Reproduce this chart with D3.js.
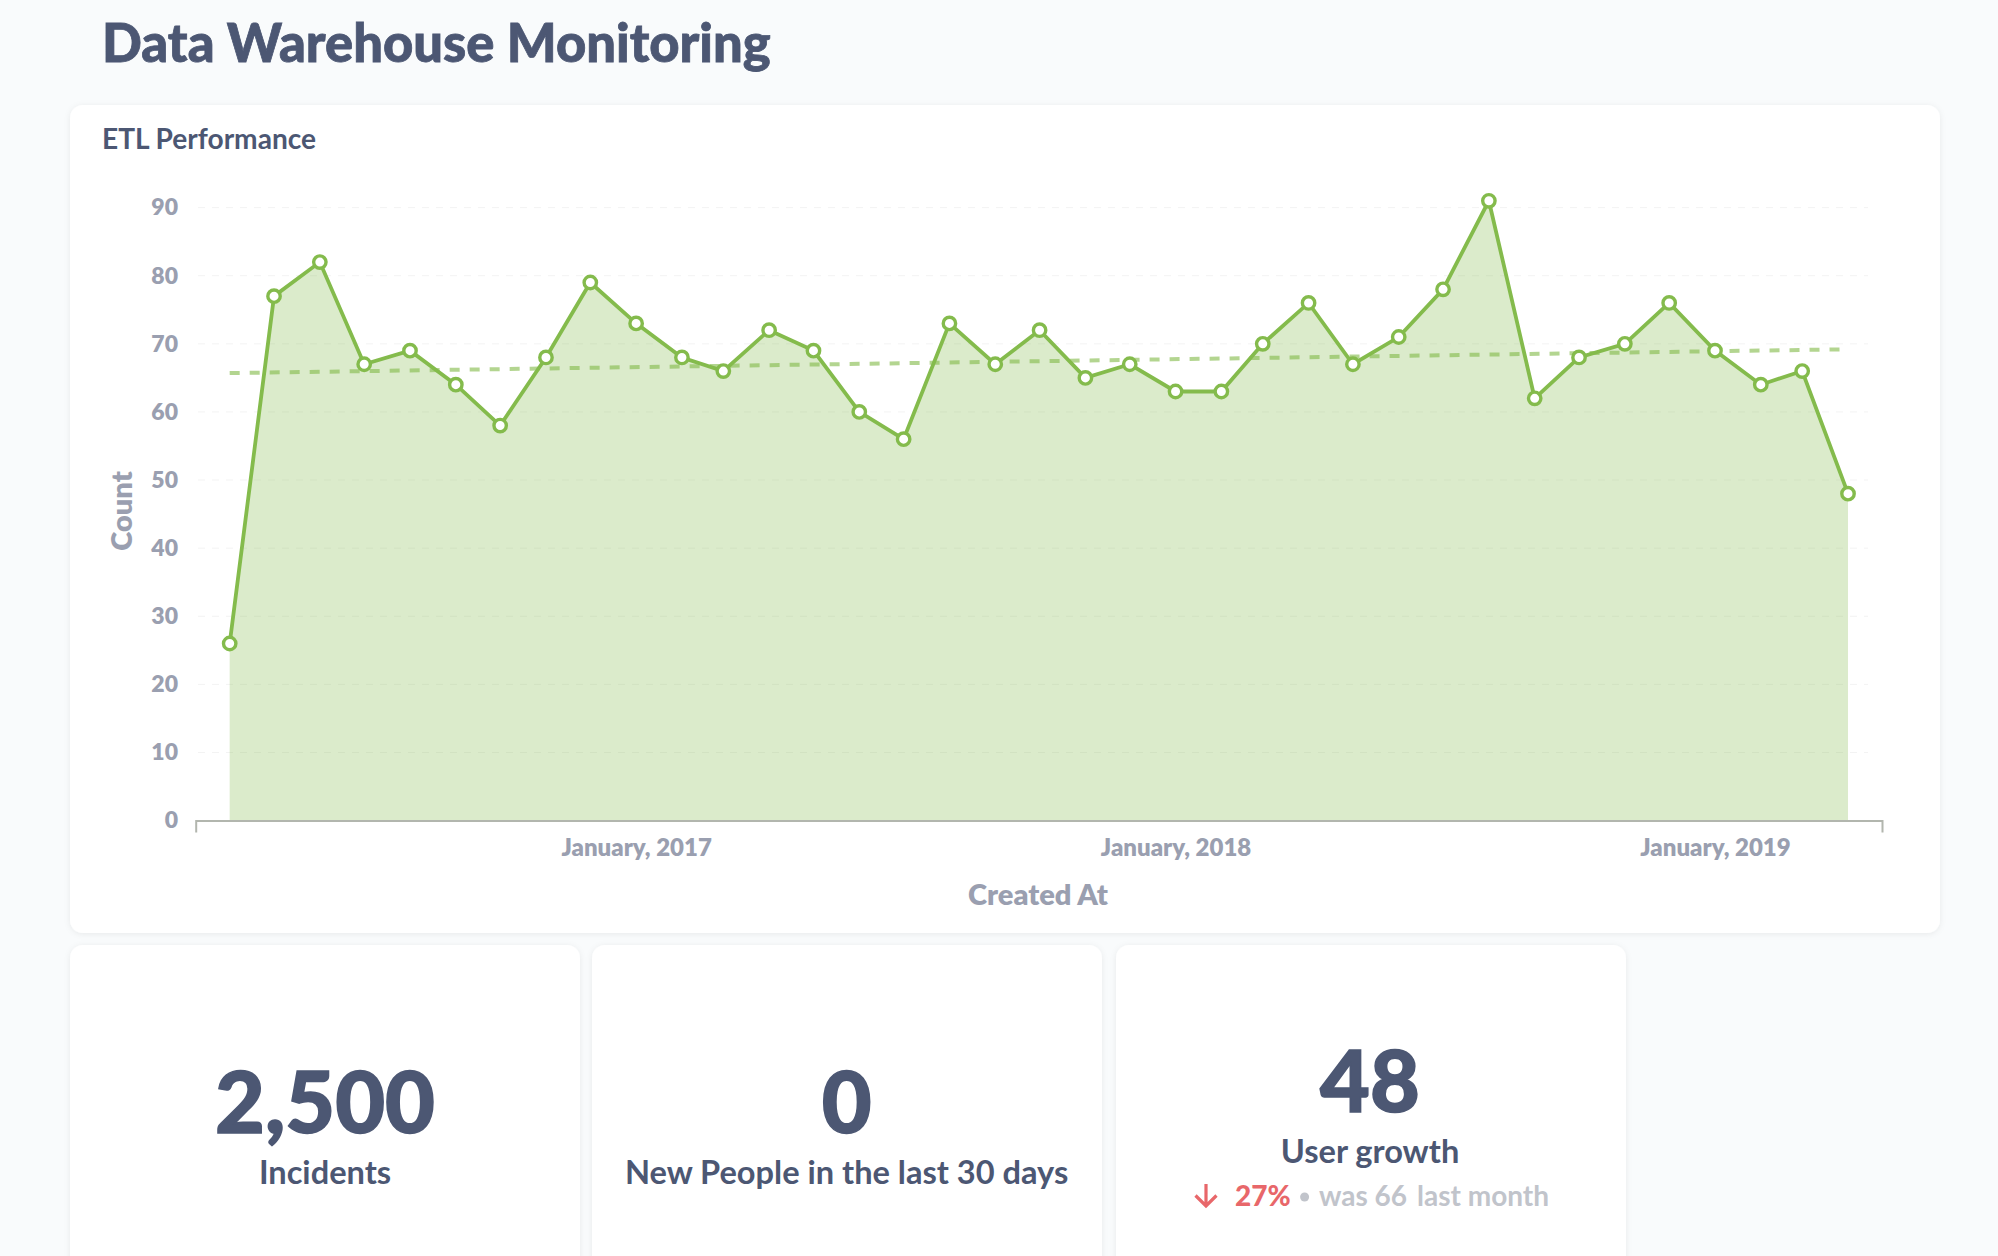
<!DOCTYPE html>
<html>
<head>
<meta charset="utf-8">
<title>Data Warehouse Monitoring</title>
<script src="https://cdn.jsdelivr.net/npm/d3@7"></script>
<style>
    html, body { margin: 0; padding: 0; background: #f9fbfc; overflow: hidden; }
    svg { display: block; font-family: Lato, sans-serif; }
</style>
</head>
<body>
<svg id="drawing_region"></svg>
<script>
// monthly counts, April 2016 .. April 2019
const start_month = "2016-04-01";
const counts = [26, 77, 82, 67, 69, 64, 58, 68, 79, 73, 68, 66, 72, 69, 60, 56, 73, 67, 72,
    65, 67, 63, 63, 70, 76, 67, 71, 78, 91, 62, 68, 70, 76, 69, 64, 66, 48];
const trend_ends = [65.7, 69.2];
const y_ticks = [0, 10, 20, 30, 40, 50, 60, 70, 80, 90];
const x_ticks = ["2017-01-01", "2018-01-01", "2019-01-01"];

const page_title = "Data Warehouse Monitoring";
const card_title = "ETL Performance";
const x_label = "Created At";
const y_label = "Count";

const metric_values = ["2,500", "0", "48"];
const metric_labels = ["Incidents", "New People in the last 30 days", "User growth"];

const text_dark = "#4c5773";
const text_grey = "#9a9fb0";
const green = "#84bb4c";
const red = "#e8676a";
const muted = "#c1c4cb";

const width = 1998, height = 1256;

const svg = d3.select("#drawing_region")
    .attr("width", width)
    .attr("height", height);

const shadow = svg.append("defs").append("filter")
    .attr("id", "card_shadow")
    .attr("x", "-5%").attr("y", "-5%")
    .attr("width", "110%").attr("height", "110%");
shadow.append("feDropShadow")
    .attr("dx", 0).attr("dy", 1)
    .attr("stdDeviation", 3)
    .attr("flood-color", "#000")
    .attr("flood-opacity", 0.07);

// cards
const cards = [
    {x: 70, y: 105, w: 1870, h: 828},
    {x: 70, y: 945, w: 510, h: 340},
    {x: 592, y: 945, w: 510, h: 340},
    {x: 1116, y: 945, w: 510, h: 340}
];
svg.selectAll("rect.card")
    .data(cards)
    .enter()
    .append("rect")
    .attr("class", "card")
    .attr("x", d => d.x).attr("y", d => d.y)
    .attr("width", d => d.w).attr("height", d => d.h)
    .attr("rx", 13)
    .attr("fill", "#fff")
    .attr("filter", "url(#card_shadow)");

svg.append("text")
    .attr("x", 102).attr("y", 62)
    .attr("fill", text_dark)
    .attr("stroke", text_dark)
    .attr("stroke-width", 0.8)
    .attr("font-size", "52.5px").attr("font-weight", 900)
    .text(page_title);

svg.append("text")
    .attr("x", 102).attr("y", 149)
    .attr("fill", text_dark)
    .attr("font-size", "28.1px").attr("font-weight", 700)
    .text(card_title);

// chart
const parse = d3.utcParse("%Y-%m-%d");
const first = parse(start_month);
const months = counts.map((c, i) => d3.utcMonth.offset(first, i));
const last = months[months.length - 1];
const rows = counts.map((c, i) => ({date: months[i], count: c}));

const xscale = d3.scaleUtc()
    .domain([d3.utcDay.offset(first, -23), d3.utcDay.offset(last, 23)])
    .range([195.7, 1882]);
const yscale = d3.scaleLinear()
    .domain([0, 90])
    .range([820.6, 207.6]);

const chart = svg.append("g");

chart.selectAll("line.grid")
    .data(y_ticks.slice(1))
    .enter()
    .append("line")
    .attr("class", "grid")
    .attr("x1", 198).attr("x2", 1868)
    .attr("y1", d => yscale(d)).attr("y2", d => yscale(d))
    .attr("stroke", "#f3f3f3")
    .attr("stroke-width", 1)
    .attr("stroke-dasharray", "7 7");

const area = d3.area()
    .x(d => xscale(d.date))
    .y0(yscale(0))
    .y1(d => yscale(d.count));
chart.append("path")
    .datum(rows)
    .attr("d", area)
    .attr("fill", green)
    .attr("fill-opacity", 0.29);

const trend_line = d3.line()
    .x(d => xscale(d.date))
    .y(d => yscale(d.value));
chart.append("path")
    .datum([{date: first, value: trend_ends[0]}, {date: last, value: trend_ends[1]}])
    .attr("d", trend_line)
    .attr("fill", "none")
    .attr("stroke", green)
    .attr("stroke-opacity", 0.62)
    .attr("stroke-width", 4)
    .attr("stroke-dasharray", "10 10");

const line = d3.line()
    .x(d => xscale(d.date))
    .y(d => yscale(d.count));
chart.append("path")
    .datum(rows)
    .attr("d", line)
    .attr("fill", "none")
    .attr("stroke", green)
    .attr("stroke-width", 3.8);

chart.selectAll("circle")
    .data(rows)
    .enter()
    .append("circle")
    .attr("cx", d => xscale(d.date))
    .attr("cy", d => yscale(d.count))
    .attr("r", 6.2)
    .attr("fill", "#fff")
    .attr("stroke", green)
    .attr("stroke-width", 3.4);

// axes
const xaxis = d3.axisBottom(xscale)
    .tickValues(x_ticks.map(parse))
    .tickFormat(d3.utcFormat("%B, %Y"))
    .tickSizeInner(0)
    .tickSizeOuter(12)
    .tickPadding(18);
const xaxis_group = chart.append("g")
    .attr("transform", `translate(0, ${yscale(0)})`)
    .call(xaxis);
xaxis_group.select(".domain")
    .attr("stroke", "#b2b6ae")
    .attr("stroke-width", 2);
xaxis_group.selectAll("text")
    .attr("fill", text_grey)
    .attr("font-family", "Lato, sans-serif")
    .attr("font-size", "24px")
    .attr("font-weight", 800);

const yaxis = d3.axisLeft(yscale)
    .tickValues(y_ticks)
    .tickSize(0)
    .tickPadding(0);
const yaxis_group = chart.append("g")
    .attr("transform", "translate(178, 0)")
    .call(yaxis);
yaxis_group.select(".domain").remove();
yaxis_group.selectAll("text")
    .attr("fill", text_grey)
    .attr("font-family", "Lato, sans-serif")
    .attr("font-size", "23px")
    .attr("font-weight", 800);

svg.append("text")
    .attr("x", 1038).attr("y", 905)
    .attr("text-anchor", "middle")
    .attr("fill", text_grey)
    .attr("font-size", "29px").attr("font-weight", 800)
    .text(x_label);

svg.append("text")
    .attr("transform", "translate(132, 511) rotate(-90)")
    .attr("text-anchor", "middle")
    .attr("fill", text_grey)
    .attr("font-size", "29px").attr("font-weight", 800)
    .text(y_label);

// metric cards
const metric_layout = [
    {cx: 325, value_y: 1133, label_y: 1184},
    {cx: 846.6, value_y: 1133, label_y: 1184},
    {cx: 1370, value_y: 1111.7, label_y: 1163}
];
svg.selectAll("text.metric_value")
    .data(metric_values)
    .enter()
    .append("text")
    .attr("class", "metric_value")
    .attr("x", (d, i) => metric_layout[i].cx)
    .attr("y", (d, i) => metric_layout[i].value_y)
    .attr("text-anchor", "middle")
    .attr("fill", text_dark)
    .attr("stroke", text_dark)
    .attr("stroke-width", 1.5)
    .attr("font-size", "86px").attr("font-weight", 900)
    .text(d => d);

svg.selectAll("text.metric_label")
    .data(metric_labels)
    .enter()
    .append("text")
    .attr("class", "metric_label")
    .attr("x", (d, i) => metric_layout[i].cx)
    .attr("y", (d, i) => metric_layout[i].label_y)
    .attr("text-anchor", "middle")
    .attr("fill", text_dark)
    .attr("font-size", "32.6px").attr("font-weight", 700)
    .text(d => d);

// previous value row under "User growth"
svg.append("path")
    .attr("d", "M1206 1184V1206M1195.5 1195.5L1206 1206L1216.5 1195.5")
    .attr("fill", "none")
    .attr("stroke", red)
    .attr("stroke-width", 3.2);
svg.append("text")
    .attr("x", 1235).attr("y", 1206)
    .attr("fill", red)
    .attr("font-size", "28px").attr("font-weight", 900)
    .text("27%");
svg.append("circle")
    .attr("cx", 1304.6).attr("cy", 1197).attr("r", 4.5)
    .attr("fill", muted);
svg.append("text")
    .attr("x", 1319).attr("y", 1206)
    .attr("fill", muted)
    .attr("font-size", "28px").attr("font-weight", 700)
    .text("was 66");
svg.append("text")
    .attr("x", 1417).attr("y", 1206)
    .attr("fill", muted)
    .attr("font-size", "28px").attr("font-weight", 700)
    .text("last month");
</script>
</body>
</html>
